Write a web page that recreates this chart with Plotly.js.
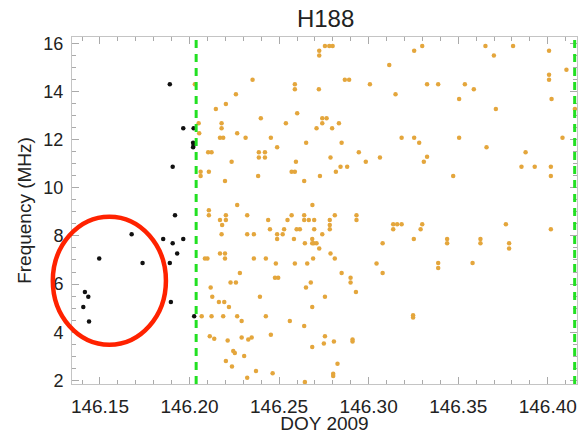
<!DOCTYPE html>
<html>
<head>
<meta charset="utf-8">
<script src="https://cdn.plot.ly/plotly-3.0.1.min.js"></script>
<style>html,body{margin:0;padding:0;background:#fff;}#chart{width:582px;height:434px;}</style>
</head>
<body>
<div id="chart"></div>
<script>
// Black events (before the interval)
var blackX = [146.1416,146.1435,146.1407,146.1439,146.1496,146.1677,146.1738,146.1853,146.1906,146.1965,146.1919,146.1931,146.1890,146.1896,146.2026,146.1890,146.1965,146.2023,146.2020,146.2023,146.2020,146.1906];
var blackY = [5.67,5.47,5.05,4.45,7.06,8.07,6.88,7.87,7.69,7.87,8.86,7.27,6.88,5.26,4.66,14.30,12.47,12.47,11.87,11.77,11.68,10.87];

// Orange events
var orangeX = [
146.2030,146.2147,146.2051,146.2054,146.2170,146.2104,146.2123,146.2062,146.2062,146.2108,146.2108,146.2108,146.2170,146.2182,146.2086,146.2100,146.2170,146.2118,146.2127,146.2164,146.2068,146.2123,146.2113,146.2138,
146.2756,146.2780,146.2799,146.2724,146.2724,146.3115,146.2352,146.2588,146.2588,146.2867,146.2891,146.3007,146.2722,146.2259,146.2203,146.2601,146.2398,146.2741,146.2765,146.2179,146.2179,146.2538,146.2741,146.2834,146.2709,146.2796,146.2266,146.2188,146.2313,146.2454,146.2651,146.2849,146.2489,146.2387,146.2387,146.2421,146.2421,146.2945,146.3063,146.2787,146.2235,146.2594,146.2984,146.2843,146.2880,146.2570,146.2588,146.2817,146.2383,146.2728,146.2198,146.2640,146.2266,146.2686,146.2322,146.2570,146.2640,146.2640,146.2811,146.2932,146.2932,146.2203,146.2203,146.2439,146.2547,146.2666,146.2696,146.2783,146.2783,146.2783,
146.2449,146.2528,146.2696,146.2598,146.2616,146.2179,146.2322,146.2359,146.2489,146.2489,146.2520,146.2583,146.2644,146.2685,146.2685,146.2694,146.2709,146.2724,146.2741,146.3078,146.2198,146.2198,146.2359,146.2426,146.2482,146.2588,146.2657,146.2690,146.2787,146.2811,146.3044,146.3078,146.2281,146.2849,146.2899,146.2899,146.2477,146.2495,146.2229,146.2259,146.2677,146.2929,146.2650,146.2393,146.2756,146.2194,146.2220,146.2685,146.2188,146.2266,146.2291,146.2426,146.2560,146.2640,146.2213,146.2291,146.2328,146.2347,146.2454,146.2685,146.2750,146.2756,146.2806,146.2910,146.2910,146.2244,146.2253,146.2305,146.2203,146.2237,146.2826,146.2371,146.2464,146.2802,146.2802,146.2322,146.2644,
146.3299,146.3254,146.3652,146.3806,146.3699,146.4007,146.4104,146.4007,146.4007,146.3326,146.3388,146.3537,146.3587,146.3150,146.3505,146.4021,146.3710,146.4151,146.3184,146.3254,146.3282,146.3505,146.4082,146.3658,146.3326,146.3308,146.3876,146.3853,146.3927,146.4017,146.4017,146.3472,146.3137,146.3159,146.3184,146.3299,146.3766,
146.3137,146.3290,146.4017,146.3252,146.3438,146.3438,146.3624,146.3624,146.3784,146.3784,146.3388,146.3388,146.3580,146.3248,146.3248];
var orangeY = [
14.30,13.27,12.68,12.26,12.08,11.47,11.47,10.66,10.49,10.66,9.07,8.86,8.66,8.45,7.06,7.06,7.27,5.86,5.47,5.26,4.66,4.66,3.83,3.73,
15.89,15.89,15.89,15.69,15.49,15.10,14.48,14.30,14.09,14.48,14.48,14.30,14.09,13.88,13.48,13.09,12.89,12.89,12.89,12.68,12.47,12.68,12.68,12.68,12.47,12.47,12.26,12.08,12.08,12.08,11.87,11.87,11.68,11.47,11.26,11.47,11.26,11.47,11.26,11.26,11.08,11.08,11.08,10.87,10.87,10.66,10.66,10.66,10.49,10.49,10.28,10.28,9.28,9.28,8.86,8.86,8.86,8.66,8.86,8.86,8.66,8.86,8.66,8.66,8.66,8.66,8.66,8.66,8.45,8.28,
8.28,8.28,8.28,8.28,8.28,8.07,8.07,8.07,8.07,7.87,8.07,7.87,7.69,7.87,7.69,7.69,7.69,7.48,8.07,7.69,7.27,7.06,7.06,7.06,6.85,6.85,6.85,7.06,7.27,7.06,6.85,6.46,6.46,6.46,6.26,6.06,6.26,6.26,6.06,6.06,6.06,5.67,5.86,5.47,5.47,5.26,5.05,5.05,4.66,4.66,4.47,4.66,4.47,4.26,3.66,3.78,3.70,3.78,3.90,3.39,3.53,3.83,3.62,3.70,3.62,3.22,3.14,3.01,2.80,2.58,2.69,2.39,2.30,2.28,2.18,2.11,1.93,
15.89,15.69,15.89,15.89,15.49,15.69,14.90,14.69,14.48,14.30,14.30,14.30,14.09,13.88,13.69,13.69,13.27,13.27,12.08,12.08,11.87,12.08,12.08,11.68,11.29,11.08,11.47,10.87,10.87,10.87,10.49,10.49,8.48,8.48,8.48,8.48,8.48,
8.28,8.28,8.28,7.87,7.87,7.69,7.87,7.69,7.69,7.48,6.88,6.67,6.88,4.70,4.61];

var intervalBounds = [146.2037, 146.415];
var xTickVals = [146.15, 146.20, 146.25, 146.30, 146.35, 146.40];
var xTickText = ['146.15', '146.20', '146.25', '146.30', '146.35', '146.40'];
var yTickVals = [2, 4, 6, 8, 10, 12, 14, 16];

var font = 'Liberation Sans, Arial, Helvetica, sans-serif';

var traces = [
  {x: blackX, y: blackY, type: 'scatter', mode: 'markers', marker: {color: '#111111', size: 4.5}, hoverinfo: 'x+y', showlegend: false},
  {x: orangeX, y: orangeY, type: 'scatter', mode: 'markers', marker: {color: '#e4a63c', size: 4.5}, hoverinfo: 'x+y', showlegend: false}
];

var shapes = intervalBounds.map(function (v) {
  return {type: 'line', xref: 'x', yref: 'paper', x0: v, x1: v, y0: 0, y1: 1,
          line: {color: '#22e022', width: 3, dash: '8px,6px'}, layer: 'above'};
});
shapes.push({type: 'circle', xref: 'paper', yref: 'paper', x0: -0.038, x1: 0.186, y0: 0.113, y1: 0.482,
             line: {color: '#ff2200', width: 4.5}, layer: 'above'});

var axisCommon = {
  showgrid: false, zeroline: false, showline: true, linecolor: '#c4c4c4', linewidth: 1,
  mirror: 'allticks', ticks: 'inside', ticklen: 7, tickcolor: '#aaaaaa', tickwidth: 1,
  tickfont: {family: font, size: 18, color: '#222'}
};

var layout = {
  width: 582, height: 434,
  margin: {l: 72, r: 5, t: 37, b: 50},
  paper_bgcolor: '#ffffff', plot_bgcolor: '#ffffff',
  title: {text: 'H188', font: {family: font, size: 24, color: '#222'}, x: 0.5595, xanchor: 'center', yref: 'container', y: 0.957, yanchor: 'middle'},
  xaxis: Object.assign({}, axisCommon, {
    range: [146.1344, 146.4163], tickvals: xTickVals, ticktext: xTickText,
    tickfont: {family: font, size: 19, color: '#222'},
    minor: {dtick: 0.01, tick0: 146.15, ticks: 'inside', ticklen: 4, tickcolor: '#aaaaaa', showgrid: false},
    ticklabelstandoff: 5,
    title: {text: 'DOY 2009', font: {family: font, size: 19, color: '#222'}, standoff: 1}
  }),
  yaxis: Object.assign({}, axisCommon, {
    range: [1.85, 16.26], tickvals: yTickVals,
    minor: {dtick: 0.5, tick0: 2, ticks: 'inside', ticklen: 4, tickcolor: '#aaaaaa', showgrid: false},
    ticklabelstandoff: 4,
    title: {text: 'Frequency (MHz)', font: {family: font, size: 19, color: '#222'}, standoff: 6}
  }),
  shapes: shapes
};

Plotly.newPlot('chart', traces, layout, {displayModeBar: false, staticPlot: true});
</script>
</body>
</html>
